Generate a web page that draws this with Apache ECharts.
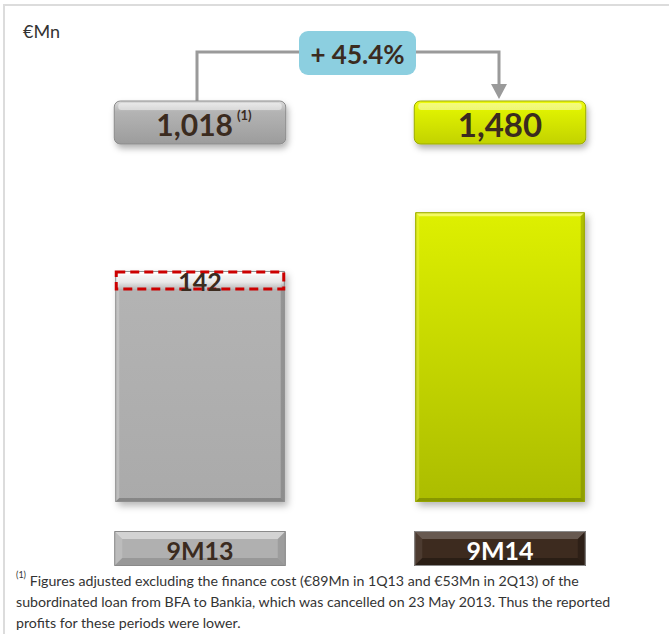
<!DOCTYPE html>
<html>
<head>
<meta charset="utf-8">
<script src="https://cdn.jsdelivr.net/npm/echarts@6/dist/echarts.min.js"></script>
<style>
  html, body { margin: 0; padding: 0; background: #ffffff; }
  #chart { width: 669px; height: 634px; }
</style>
</head>
<body>
<div id="chart"></div>
<script>
// Net profit by period, €Mn
const categories = ['9M13', '9M14'];
const values = [1018, 1480];
// finance cost excluded from the 9M13 figure (dashed segment on top of the bar)
const adjustments = [142, null];
const noteMarks = ['(1)', ''];
const unitLabel = '€Mn';
const footnoteLines = [
  'Figures adjusted excluding the finance cost (€89Mn in 1Q13 and €53Mn in 2Q13) of the',
  'subordinated loan from BFA to Bankia, which was cancelled on 23 May 2013. Thus the reported',
  'profits for these periods were lower.'
];

const growthLabel = '+ ' + ((values[1] / values[0] - 1) * 100).toFixed(1) + '%';
const fmt = v => v.toLocaleString('en-US');

const INK = '#3b2b1f';
const FONT = 'Lato, "Open Sans", sans-serif';

const palettes = [
  { top: '#b4b4b4', bottom: '#aaaaaa', light: 'rgba(255,255,255,0.6)', dark: 'rgba(70,70,70,0.35)', stroke: '#8e8e8e',
    boxTop: '#dcdcdc', boxBottom: '#9c9c9c', boxStroke: '#8a8a8a',
    cat: '#b0b0b0', catLight: 'rgba(255,255,255,0.45)', catDark: 'rgba(60,60,60,0.2)', catText: INK },
  { top: '#def000', bottom: '#abbc00', light: 'rgba(255,255,140,0.7)', dark: 'rgba(70,80,0,0.35)', stroke: '#94a400',
    boxTop: '#f0fa10', boxBottom: '#c2d200', boxStroke: '#9aaa00',
    cat: '#3d2b1f', catLight: 'rgba(255,255,255,0.22)', catDark: 'rgba(0,0,0,0.3)', catText: '#ffffff' }
];

// beveled rectangle: flat face plus four lit / shaded edge strips
function bevel(x, y, w, h, b, fill, light, dark, stroke, shadow) {
  const shapes = [];
  shapes.push({
    type: 'rect', shape: { x, y, width: w, height: h },
    style: {
      fill,
      shadowBlur: shadow ? 7 : 0, shadowOffsetX: shadow ? 3 : 0, shadowOffsetY: shadow ? 4 : 0,
      shadowColor: 'rgba(0,0,0,0.28)'
    }
  });
  shapes.push({ type: 'polygon', shape: { points: [[x, y], [x + w, y], [x + w - b, y + b], [x + b, y + b]] }, style: { fill: light } });
  shapes.push({ type: 'polygon', shape: { points: [[x, y], [x + b, y + b], [x + b, y + h - b], [x, y + h]] }, style: { fill: light, opacity: 0.35 } });
  shapes.push({ type: 'polygon', shape: { points: [[x + w, y], [x + w, y + h], [x + w - b, y + h - b], [x + w - b, y + b]] }, style: { fill: dark, opacity: 0.8 } });
  shapes.push({ type: 'polygon', shape: { points: [[x, y + h], [x + w, y + h], [x + w - b, y + h - b], [x + b, y + h - b]] }, style: { fill: dark } });
  shapes.push({ type: 'rect', shape: { x: x + 0.5, y: y + 0.5, width: w - 1, height: h - 1 }, style: { fill: null, stroke, lineWidth: 1 } });
  return shapes;
}

function renderItem(params, api) {
  const idx = api.value(0);
  const val = api.value(1);
  const adj = adjustments[idx];
  const p = palettes[idx];
  const cs = params.coordSys;
  const base = cs.y + cs.height;
  const topPt = api.coord([idx, val]);
  const bw = api.size([1, 0])[0] * 0.565;
  const x = topPt[0] - bw / 2;
  const children = [];

  // bar
  children.push(...bevel(x, topPt[1], bw, base - topPt[1], 4,
    { type: 'linear', x: 0, y: 0, x2: 0, y2: 1, colorStops: [{ offset: 0, color: p.top }, { offset: 1, color: p.bottom }] },
    p.light, p.dark, p.stroke, true));

  // dashed segment for the excluded finance cost
  if (adj != null) {
    const lowPt = api.coord([idx, val - adj]);
    children.push({
      type: 'rect', shape: { x: x + 1, y: topPt[1] + 1, width: bw - 2, height: lowPt[1] - topPt[1] - 1 },
      style: {
        fill: { type: 'linear', x: 0, y: 0, x2: 0, y2: 1, colorStops: [{ offset: 0, color: 'rgba(255,255,255,0.95)' }, { offset: 0.6, color: 'rgba(255,255,255,0.7)' }, { offset: 1, color: 'rgba(255,255,255,0.1)' }] },
        stroke: '#cc0000', lineWidth: 3, lineDash: [9, 5]
      }
    });
    children.push({
      type: 'text',
      style: { x: topPt[0], y: (topPt[1] + lowPt[1]) / 2 + 1, text: fmt(adj), fill: INK, font: 'bold 25px ' + FONT, align: 'center', verticalAlign: 'middle' }
    });
  }

  // value box above the bar
  const boxW = bw + 2, boxX = topPt[0] - boxW / 2, boxY = 101, boxH = 43;
  children.push({
    type: 'rect', shape: { x: boxX, y: boxY, width: boxW, height: boxH, r: 6 },
    style: {
      fill: { type: 'linear', x: 0, y: 0, x2: 0, y2: 1, colorStops: [{ offset: 0, color: p.boxTop }, { offset: 0.25, color: p.top }, { offset: 1, color: p.boxBottom }] },
      stroke: p.boxStroke, lineWidth: 1,
      shadowBlur: 6, shadowOffsetX: 2, shadowOffsetY: 4, shadowColor: 'rgba(0,0,0,0.3)'
    }
  });
  children.push({
    type: 'rect', shape: { x: boxX + 4, y: boxY + 2, width: boxW - 8, height: 7, r: 3 },
    style: { fill: 'rgba(255,255,255,0.45)' }
  });
  children.push({
    type: 'text',
    style: {
      x: topPt[0] + (noteMarks[idx] ? 4 : 0), y: boxY + boxH / 2 + 1,
      text: noteMarks[idx] ? '{v|' + fmt(val) + '}{s|' + noteMarks[idx] + '}' : '{w|' + fmt(val) + '}',
      align: 'center', verticalAlign: 'middle',
      rich: {
        v: { font: 'bold 30px ' + FONT, fill: INK },
        w: { font: 'bold 33px ' + FONT, fill: INK },
        s: { font: 'bold 13px ' + FONT, fill: INK, verticalAlign: 'top', padding: [0, 0, 14, 4] }
      }
    }
  });

  // category box below the bar
  const catY = 531, catH = 35, catW = bw + 2, catX = topPt[0] - catW / 2;
  children.push(...bevel(catX, catY, catW, catH, 8, p.cat, p.catLight, p.catDark, '#8a8a8a', false));
  children.push({
    type: 'text',
    style: { x: topPt[0], y: catY + catH / 2 + 1, text: categories[idx], fill: p.catText, font: 'bold 25px ' + FONT, align: 'center', verticalAlign: 'middle' }
  });

  return { type: 'group', children };
}

const chart = echarts.init(document.getElementById('chart'), null, { renderer: 'svg' });

const lineColor = '#9a9a9a';
chart.setOption({
  animation: false,
  backgroundColor: '#ffffff',
  grid: { left: 50, right: 19, top: 197, bottom: 132 },
  xAxis: { type: 'category', data: categories, show: false },
  yAxis: { type: 'value', min: -800, max: 1600, show: false },
  series: [{
    type: 'custom',
    clip: false,
    renderItem,
    data: values.map((v, i) => [i, v])
  }],
  graphic: [
    // frame
    { type: 'rect', shape: { x: 4, y: 5, width: 720, height: 700 }, style: { fill: null, stroke: '#dcdcdc', lineWidth: 2 }, silent: true },
    { type: 'text', left: 23, top: 22, style: { text: unitLabel, font: '18px ' + FONT, fill: '#333333' } },
    // growth connector
    { type: 'polyline', shape: { points: [[197, 101], [197, 52], [300, 52]] }, style: { stroke: lineColor, lineWidth: 3, fill: null } },
    { type: 'polyline', shape: { points: [[415, 52], [499, 52], [499, 86]] }, style: { stroke: lineColor, lineWidth: 3, fill: null } },
    { type: 'polygon', shape: { points: [[491, 84], [507, 84], [499, 99]] }, style: { fill: lineColor } },
    {
      type: 'rect', shape: { x: 299, y: 31, width: 117, height: 44, r: 9 },
      style: { fill: '#8ccfe0' }
    },
    {
      type: 'text', x: 357.5, y: 54,
      style: { text: growthLabel, font: 'bold 26px ' + FONT, fill: INK, align: 'center', verticalAlign: 'middle' }
    },
    // footnote
    {
      type: 'text', left: 16, top: 570,
      style: {
        text: '{s|(1)} ' + footnoteLines[0] + '\n' + footnoteLines[1] + '\n' + footnoteLines[2],
        font: '14.2px ' + FONT, fill: '#333333', lineHeight: 21,
        rich: { s: { font: '9px ' + FONT, fill: '#333333', verticalAlign: 'top', padding: [0, 0, 8, 0] } }
      }
    }
  ]
});
</script>
</body>
</html>
